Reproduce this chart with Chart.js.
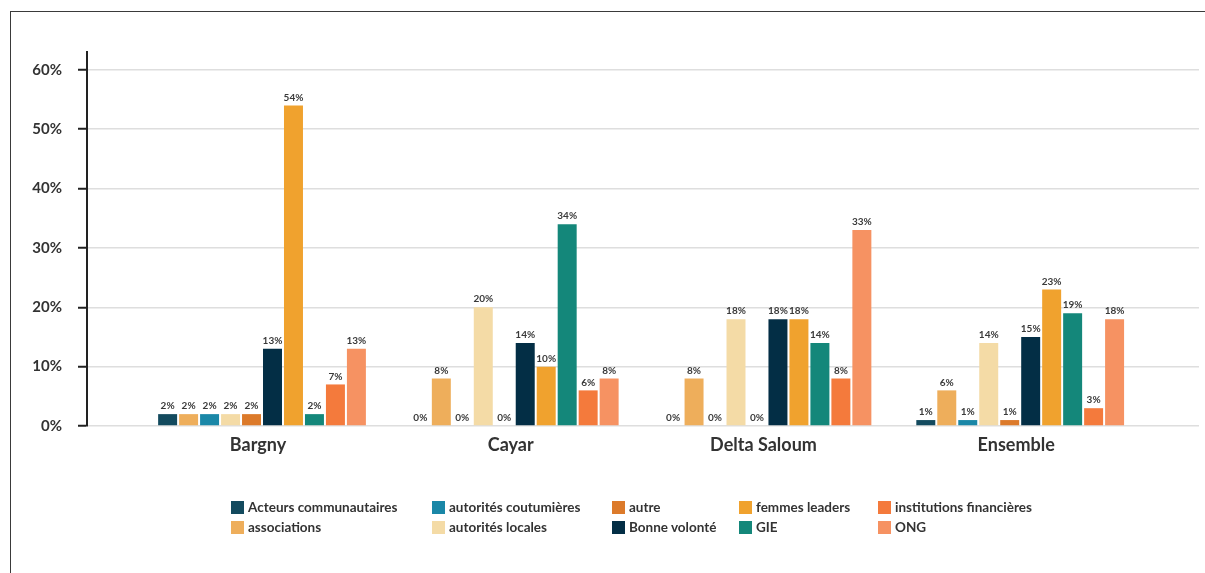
<!DOCTYPE html>
<html>
<head>
<meta charset="utf-8">
<script src="https://cdn.jsdelivr.net/npm/chart.js@4/dist/chart.umd.min.js"></script>
<style>
html, body { margin: 0; padding: 0; background: #fff; width: 1205px; height: 573px; overflow: hidden; }
#frame { position: absolute; left: 10px; top: 11px; width: 1400px; height: 800px; border: 1.5px solid #3a3a3a; }
#mainChart { position: absolute; left: 0; top: 0; }
#legend { position: absolute; left: 231px; top: 497px; display: grid; grid-template-rows: 20px 20px;
  grid-auto-flow: column; grid-template-columns: 201px 180px 127px 139px auto; }
.item { display: flex; align-items: center; font: bold 13.5px Lato, sans-serif; color: #333; white-space: nowrap; }
.box { width: 13px; height: 13px; margin-right: 4px; }
</style>
</head>
<body>
<div id="frame"></div>
<canvas id="mainChart" width="1205" height="573"></canvas>
<div id="legend"></div>
<script>
const categories = ["Bargny", "Cayar", "Delta Saloum", "Ensemble"];

const acteurs = [2, 0, 0, 1];
const associations = [2, 8, 8, 6];
const coutumieres = [2, 0, 0, 1];
const locales = [2, 20, 18, 14];
const autre = [2, 0, 0, 1];
const bonneVolonte = [13, 14, 18, 15];
const femmes = [54, 10, 18, 23];
const gie = [2, 34, 14, 19];
const institutions = [7, 6, 8, 3];
const ong = [13, 8, 33, 18];

const yTicks = [0, 10, 20, 30, 40, 50, 60];

const series = [
	["Acteurs communautaires", acteurs, "#134a5e"],
	["associations", associations, "#eeae5b"],
	["autorités coutumières", coutumieres, "#1a87a7"],
	["autorités locales", locales, "#f4dba6"],
	["autre", autre, "#dc7a2a"],
	["Bonne volonté", bonneVolonte, "#032e45"],
	["femmes leaders", femmes, "#f0a22e"],
	["GIE", gie, "#14877a"],
	["institutions financières", institutions, "#f47a3c"],
	["ONG", ong, "#f69262"]
];

// percent labels above every bar
const valueLabels = {
	id: "valueLabels",
	afterDatasetsDraw(chart) {
		const ctx = chart.ctx;
		ctx.save();
		ctx.font = "bold 10px Lato";
		ctx.fillStyle = "#3a3a3a";
		ctx.textAlign = "center";
		ctx.textBaseline = "bottom";
		chart.data.datasets.forEach((ds, i) => {
			chart.getDatasetMeta(i).data.forEach((bar, j) => {
				ctx.fillText(ds.data[j] + "%", bar.x, bar.y - 3);
			});
		});
		ctx.restore();
	}
};

const chart = new Chart("mainChart", {
	type: "bar",
	data: {
		labels: categories,
		datasets: series.map(s => ({
			label: s[0],
			data: s[1],
			backgroundColor: s[2],
			barPercentage: 0.905,
			categoryPercentage: 0.83
		}))
	},
	options: {
		responsive: false,
		animation: false,
		layout: { padding: { top: 52, right: 6, bottom: 107, left: 0 } },
		plugins: { legend: { display: false }, tooltip: { enabled: false } },
		scales: {
			x: {
				grid: { display: false, drawTicks: false },
				border: { display: false },
				ticks: { font: { family: "Lato", size: 18, weight: "bold" }, color: "#333", padding: 8, labelOffset: -4 },
				// groups sit a bit inside the plot, not spread across the full width
				afterBuildTicks: s => { s._startValue = -0.6925; s._valueRange = 4.40; },
				afterFit: s => { s.height = 40; }
			},
			y: {
				min: 0,
				max: 63,
				afterBuildTicks: s => { s.ticks = yTicks.map(v => ({ value: v })); },
				ticks: { callback: v => v + "%", font: { family: "Lato", size: 15, weight: "bold" }, color: "#333", padding: 16 },
				grid: { color: "#dedede", lineWidth: 1.5, tickColor: "#222", tickLength: 9, tickWidth: 2 },
				border: { color: "#222", width: 2 },
				afterFit: s => { s.width = 87; }
			}
		}
	},
	plugins: [valueLabels]
});

const legend = document.getElementById("legend");
chart.data.datasets.forEach(ds => {
	const item = document.createElement("div");
	item.className = "item";
	item.innerHTML = '<span class="box" style="background:' + ds.backgroundColor + '"></span>' + ds.label;
	legend.appendChild(item);
});
</script>
</body>
</html>
